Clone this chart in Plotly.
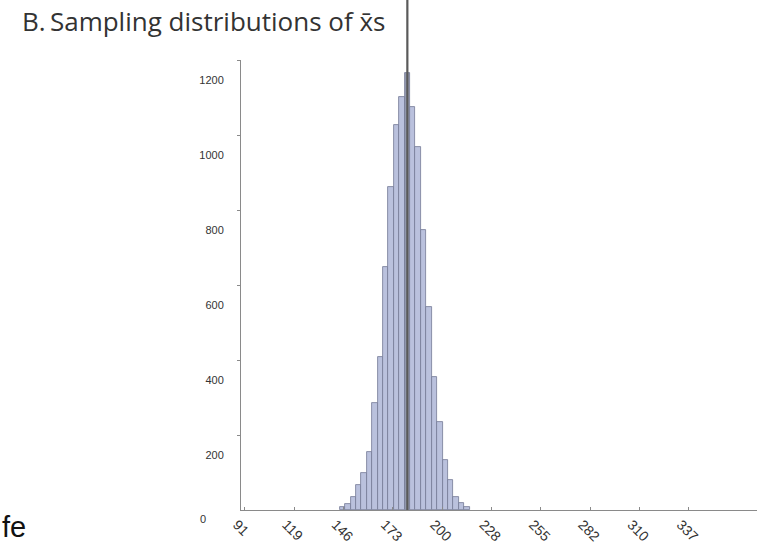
import plotly.graph_objects as go

# ---- data ----
bin_centers = [145, 148, 151, 154, 157, 160, 163, 166, 169, 172, 175, 178,
               181, 184, 187, 190, 193, 196, 199, 202, 205, 208, 211, 214]
counts = [8, 16, 35, 67, 99, 155, 285, 408, 648, 861, 1027, 1101,
          1165, 1075, 968, 747, 541, 355, 235, 133, 80, 35, 19, 8]
bin_width = 3
mean_value = 181

x_tick_vals = [91, 118.33, 145.67, 173, 200.33, 227.67, 255, 282.33, 309.67, 337]
x_tick_text = ["91", "119", "146", "173", "200", "228", "255", "282", "310", "337"]
y_tick_vals = [200, 400, 600, 800, 1000, 1200]
y_tick_text = ["200", "400", "600", "800", "1000", "1200"]

title_text = "B.\u2009Sampling distributions of x\u0304s"

# ---- figure ----
bar_colors = ["#959ab0" if c == mean_value else "#bac1dd" for c in bin_centers]

fig = go.Figure()
fig.add_trace(go.Bar(
    x=bin_centers, y=counts, width=bin_width,
    marker=dict(color=bar_colors, line=dict(color="#737a96", width=0.8)),
    showlegend=False, hoverinfo="x+y",
))

fig.add_shape(type="line", xref="x", yref="paper",
              x0=mean_value, x1=mean_value, y0=0, y1=62 / 450 + 1.0,
              line=dict(color="#5a5a5a", width=2.2), layer="above")

axis_font = dict(family="Liberation Sans, Arial, sans-serif", size=11, color="#333333")
xtick_font = dict(family="Liberation Sans, Arial, sans-serif", size=14, color="#333333")

fig.update_layout(
    width=768, height=557,
    margin=dict(l=241, r=11, t=60, b=47),
    paper_bgcolor="white", plot_bgcolor="white",
    bargap=0,
    title=dict(text=title_text, x=22 / 768, xanchor="left", xref="container",
               y=1 - 22 / 557, yanchor="middle", yref="container",
               font=dict(family="Open Sans, Noto Sans, sans-serif", size=26, color="#333333")),
    xaxis=dict(range=[88.8, 374.8], tickvals=x_tick_vals, ticktext=x_tick_text,
               tickangle=45, showgrid=False, zeroline=False,
               showline=True, linecolor="#8a8a8a", linewidth=1,
               ticks="inside", ticklen=3, tickcolor="#8a8a8a",
               tickfont=xtick_font, ticklabelstandoff=0, ticklabelshift=-8),
    yaxis=dict(range=[0, 1200], tickvals=y_tick_vals, ticktext=y_tick_text,
               showgrid=False, zeroline=False,
               showline=True, linecolor="#8a8a8a", linewidth=1,
               ticks="outside", ticklen=3, tickcolor="#8a8a8a",
               tickfont=axis_font, ticklabelshift=20, ticklabelstandoff=11),
    annotations=[
        dict(text="0", xref="paper", yref="paper", x=(203 - 241) / 516, y=(510 - 519) / 450,
             xanchor="center", yanchor="middle", showarrow=False, font=axis_font),
        dict(text="fe", xref="paper", yref="paper", x=(0 - 241) / 516, y=(510 - 527) / 450,
             xanchor="left", yanchor="middle", showarrow=False,
             font=dict(family="Liberation Sans, Arial, sans-serif", size=29, color="#111111")),
    ],
)

fig.write_html("out.html", config={"displayModeBar": False},
               post_script="document.body.style.margin='0';")
